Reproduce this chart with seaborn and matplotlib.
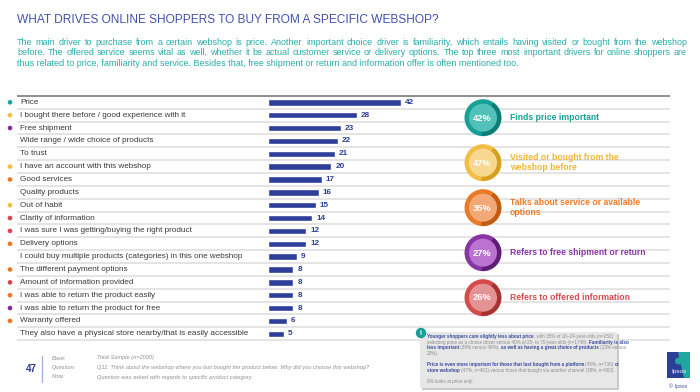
import numpy as np
import pandas as pd
import matplotlib
matplotlib.use("Agg")
import matplotlib.pyplot as plt
import seaborn as sns
from matplotlib.patches import Circle, Wedge, Rectangle, Polygon

# ---------------- data ----------------
categories = [
    "Price",
    "I bought there before / good experience with it",
    "Free shipment",
    "Wide range / wide choice of products",
    "To trust",
    "I have an account with this webshop",
    "Good services",
    "Quality products",
    "Out of habit",
    "Clarity of information",
    "I was sure I was getting/buying the right product",
    "Delivery options",
    "I could buy multiple products (categories) in this one webshop",
    "The different payment options",
    "Amount of information provided",
    "I was able to return the product easily",
    "I was able to return the product for free",
    "Warranty offered",
    "They also have a physical store nearby/that is easily accessible",
]
values = [42, 28, 23, 22, 21, 20, 17, 16, 15, 14, 12, 12, 9, 8, 8, 8, 8, 6, 5]
dot_groups = ["price", "familiar", "free", "", "", "familiar", "service", "",
              "familiar", "info", "info", "service", "", "service", "info",
              "service", "free", "service", ""]

badge_groups = ["price", "familiar", "service", "free", "info"]
badge_pcts = ["42%", "47%", "35%", "27%", "26%"]
badge_texts = ["Finds price important",
               "Visited or bought from the\nwebshop before",
               "Talks about service or available\noptions",
               "Refers to free shipment or return",
               "Refers to offered information"]

title = "WHAT DRIVES ONLINE SHOPPERS TO BUY FROM A SPECIFIC WEBSHOP?"
body_lines = [
    "The main driver to purchase from a certain webshop is price. Another important choice driver is familiarity, which entails having visited or bought from the webshop",
    "before. The offered service seems vital as well, whether it be actual customer service or delivery options. The top three most important drivers for online shoppers are",
    "thus related to price, familiarity and service. Besides that, free shipment or return and information offer is often mentioned too.",
]
note_lines = [
    [("Younger shoppers care slightly less about price", True), (", with 35% of 18\u201324-year-olds (n=252)", False)],
    [("selecting price as a choice driver versus 40% of 25- to 70-year-olds (n=1748). ", False), ("Familiarity is also", True)],
    [("less important", True), (" (38% versus 48%), ", False), ("as well as having a great choice of products", True), (" (13% versus", False)],
    [("23%).", False)],
    None,
    [("Price is even more important for those that last bought from a platform", True), (" (45%, n=736) ", False), ("or", True)],
    [("store webshop", True), (" (47%, n=401) versus those that bought via another channel (38%, n=863).", False)],
    None,
    [("8% looks at price only.", False)],
]
footer_keys = ["Base:", "Question:", "Note:"]
footer_vals = ["Total Sample (n=2000)",
               "Q11. Think about the webshop where you last bought the product below. Why did you choose this webshop?",
               "Question was asked with regards to specific product category."]
page_number = "47"

# ---------------- style ----------------
BAR = "#2E3F9B"
COL = {
    "price":    dict(dot="#1BA39C", ring="#17A097", inner="#52C1B9", shadow="#0D7D76", text="#17A097"),
    "familiar": dict(dot="#F5BE41", ring="#F2BE45", inner="#F7D88E", shadow="#D79F1E", text="#F0B735"),
    "service":  dict(dot="#EE7623", ring="#EB7A26", inner="#F2A877", shadow="#C05D12", text="#EB7A26"),
    "free":     dict(dot="#7B2D9B", ring="#8A35A5", inner="#BA74CF", shadow="#5E1E77", text="#8A35A5"),
    "info":     dict(dot="#D9464E", ring="#D44B4B", inner="#E39393", shadow="#A53333", text="#D44B4B"),
}

sns.set_theme(style="white")
plt.rcParams["font.family"] = ["Liberation Sans", "DejaVu Sans"]

W, H = 700, 392
fig = plt.figure(figsize=(7, 3.92), dpi=100)
fig.patch.set_facecolor("white")

# main bar axes (pixel layout)
ROW0, ROWSTEP = 102.3, 12.86
top_px = ROW0 - ROWSTEP / 2
bot_px = ROW0 + ROWSTEP * (len(categories) - 0.5)
AX_L, AX_R = 0, 670
ax = fig.add_axes([AX_L / W, 1 - bot_px / H, (AX_R - AX_L) / W, (bot_px - top_px) / H])

PXU = 3.17          # pixels per value unit
ZERO_PX = 268
def px2x(px):
    return (px - ZERO_PX) / PXU

df = pd.DataFrame({"category": categories, "value": values})
sns.barplot(data=df, x="value", y="category", orient="h", color=BAR,
            saturation=1, width=0.5, ax=ax)
ax.set_xlim(px2x(AX_L), px2x(AX_R))
ax.set_ylim(len(categories) - 0.5, -0.5)
ax.set_axis_off()

# separators
ax.hlines(np.arange(0.5, len(categories), 1), px2x(17), px2x(AX_R),
          color="#DCDCDC", lw=1.1, zorder=0, clip_on=False)
ax.hlines(-0.5, px2x(17), px2x(AX_R), color="#7A7A7A", lw=1.2, zorder=0, clip_on=False)

# labels, values
for i, (c, v) in enumerate(zip(categories, values)):
    ax.text(px2x(20), i, c, va="center", ha="left", fontsize=5.9, color="#3A3A3A")
    ax.text(v + 4 / PXU, i, str(v), va="center", ha="left", fontsize=5.9,
            fontweight="bold", color=BAR)

# colored dots
dots = pd.DataFrame({"x": [px2x(10)] * len(categories), "y": range(len(categories)),
                     "g": dot_groups})
dots = dots[dots["g"] != ""]
sns.scatterplot(data=dots, x="x", y="y", hue="g",
                palette={k: v["dot"] for k, v in COL.items()},
                s=11, linewidth=0, legend=False, ax=ax, clip_on=False)
ax.set_axis_off()

# ---------------- overlay (pixel coordinates) ----------------
ov = fig.add_axes([0, 0, 1, 1], zorder=5)
ov.set_xlim(0, W)
ov.set_ylim(H, 0)
ov.set_axis_off()
ov.patch.set_alpha(0)
renderer = fig.canvas.get_renderer()

def text_w(s, **kw):
    t = ov.text(0, 0, "|" + s + "|", **kw)
    t2 = ov.text(0, 0, "||", **kw)
    w = t.get_window_extent(renderer).width - t2.get_window_extent(renderer).width
    t.remove(); t2.remove()
    return w

def justify(text, x0, x1, y, **kw):
    words = text.split()
    widths = [text_w(w, **kw) for w in words]
    gap = ((x1 - x0) - sum(widths)) / (len(words) - 1)
    x = x0
    for w, wd in zip(words, widths):
        ov.text(x, y, w, ha="left", va="center", **kw)
        x += wd + gap

# title & body
ov.text(17, 19.5, title, fontsize=8.55, color="#4352AB", ha="left", va="center")
body_kw = dict(fontsize=6.45, color="#2AADAB")
body_y = [42.3, 52.7, 63.2]
justify(body_lines[0], 17, 687, body_y[0], **body_kw)
justify(body_lines[1], 17, 687, body_y[1], **body_kw)
ov.text(17, body_y[2], body_lines[2], ha="left", va="center", **body_kw)

# badges
CX, R_OUT, R_IN = 483, 18.5, 14.0
for k, (g, pct, lab) in enumerate(zip(badge_groups, badge_pcts, badge_texts)):
    cy = 117.7 + k * 45.0
    c = COL[g]
    ov.add_patch(Circle((CX, cy), R_OUT, color=c["ring"], lw=0))
    ov.add_patch(Wedge((CX, cy), R_OUT - 0.3, -55, 95, width=R_OUT - R_IN + 0.6,
                       color=c["shadow"], lw=0))
    ov.add_patch(Circle((CX, cy), R_IN, color=c["inner"], lw=0))
    ov.text(CX - 1, cy + 0.3, pct, color="white", fontsize=6.7, fontweight="bold",
            ha="center", va="center")
    ov.text(510, cy, lab, color=c["text"], fontsize=6.2, fontweight="bold",
            ha="left", va="center", linespacing=1.2)

# note box
ov.add_patch(Rectangle((421.5, 333.5), 197, 56, color="#C9C9C9", lw=0))
ov.add_patch(Rectangle((420, 332), 197, 56, color="#E7E7E7", lw=0))
ov.add_patch(Circle((421, 333), 5.2, color="#1A9E9A", lw=0))
ov.text(421, 333.3, "i", color="white", fontsize=5, fontweight="bold", ha="center", va="center")
NOTE_BLUE, NOTE_GRAY = "#3A4A9E", "#8C8C8C"
ny = 336.5
for line in note_lines:
    if line is not None:
        x = 427
        for s, bold in line:
            kw = dict(fontsize=3.3, fontweight="bold" if bold else "normal",
                      color=NOTE_BLUE if bold else NOTE_GRAY)
            ov.text(x, ny, s, ha="left", va="center", **kw)
            x += text_w(s, **kw)
    ny += 5.6

# footer
ov.text(31, 369, page_number, fontsize=7, fontweight="bold", color="#2E3A87",
        ha="center", va="center")
ov.plot([42, 42], [356, 382], color="#A9B2DC", lw=1)
for j, (k_, v_) in enumerate(zip(footer_keys, footer_vals)):
    yy = 358 + j * 9.5
    ov.text(52, yy, k_, fontsize=4.1, style="italic", color="#8F8F8F", ha="left", va="center")
    ov.text(97, yy, v_, fontsize=4.1, style="italic", color="#8F8F8F", ha="left", va="center")

# Ipsos logo
ov.add_patch(Rectangle((667, 352), 23, 26, color="#2B3F96", lw=0))
ov.add_patch(Polygon([(678, 352), (690, 352), (690, 378), (684, 378)], closed=True,
                     color="#1FA7A0", lw=0))
ov.add_patch(Circle((678.5, 361), 3.5, color="#1FA7A0", lw=0))
ov.text(678.5, 372, "Ipsos", color="white", fontsize=4.6, ha="center", va="center")
ov.text(678.5, 386, "\u00a9 Ipsos", color="#3A4A9E", fontsize=3.8, ha="center", va="center")

fig.savefig("out.png", dpi=100, facecolor="white")
